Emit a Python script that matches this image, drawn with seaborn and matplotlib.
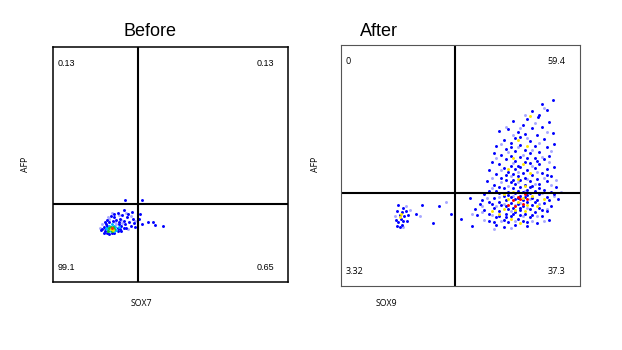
import matplotlib
matplotlib.use("Agg")
import matplotlib.pyplot as plt
import seaborn as sns

sns.set_style("white")

# ---------------- data (axis units 0-100) ----------------
titles = ["Before", "After"]
x_labels = ["SOX7", "SOX9"]
y_label = "AFP"

before_gate = (36.2, 33.2)
after_gate = (47.7, 38.6)

before_quadrants = ["0.13", "0.13", "99.1", "0.65"]   # UL, UR, LL, LR
after_quadrants = ["0", "59.4", "3.32", "37.3"]

before_blue = [(21,22.5),(22,21.5),(21.5,23.5),(22.5,24.5),(23,21),(24,20.5),(26,20.8),(27.5,21.5),
               (28.5,22.5),(29,24),(28,25.5),(27,26.5),(25.5,26),(24,25.5),(23,26.5),(26,27.5),(28.5,27),
               (30,26),(30.5,24.5),(31,23),(29.5,28.5),(31.5,27.5),(32.5,25.5),(33,24),(32,29),(27.5,29.5),
               (30,30.5),(34,27),(34.5,25),(26,29),(24.5,28),(33.5,30),(35,23.5),(22,25.5),(20.5,22),
               (22,22.8),(23,23.8),(27.5,23),(28,24.5),(21.5,21),(25,21),(29,21.8),(30,23),
               (30.6,34.9),(37.7,34.9),(40.4,25.5),(42.6,25.5),(43.4,24.3),(46.8,23.8),(36.5,27),(38,24.5),(37,29)]
before_light = [(23.5,27.5),(25,29.5),(28,28.5),(31,29.5),(33,28),(35,26),(29,26.5),(32,22.5),(21,24.5),(27,24.8),
                (20,23),(26.5,25.5),(29.5,25),(24,26.8)]
before_cyan = [(23,22.5),(24,24),(26.5,23.5),(27,22.3),(25,24.5),(22.5,23),(26,21.8),(28,23.5),
               (23.2,21.5),(24.5,21.5),(26,24)]
before_green = [(24,22.8),(25.5,23.5),(23.5,21.8),(26,22.5),(24.5,23.6),(25,21.8)]
before_yellow = [(24.8,22.6),(25.6,22.2)]
before_red = [(25.2,22.9)]

after_blue = [(88.5,77),(84,75.5),(86,73),(80,72.5),(82.5,70),(78,69.5),(72,68.5),(87,68),(76,67),(84,66),
              (80,65.5),(66,64.5),(70,65),(74,64),(88.5,63.5),(77,63),(82,62.5),(73,61.5),(85,61),(68,60.5),
              (79,60),(71,59.5),(89,59),(75,58.5),(65,58),(81,58),(86,57.5),(69,57),(77,56.5),(73,56),
              (83,55.5),(64,55),(79,55),(67,54.5),(71,54),(87,54),(75,53.5),(81,53),(69,52.5),(85,52.5),
              (73,52),(63,51.5),(77,51.5),(79,51),(66,50.5),(83,50.5),(71,50),(75,49.5),(89,49.5),(68,49),
              (81,49),(73,48.5),(86,48.5),(62,48),(78,48),(70,47.5),(76,47),(84,47),(65,46.5),(72,46.5),
              (80,46),(74,45.5),(88,45.5),(67,45),(77,45),(82,44.5),(69,44),(75,44),(61,43.5),(79,43.5),
              (86,43.5),(71,43),(73,42.5),(83,42.5),(64,42),(77,42),(80,41.5),(66,41),(75,41),(90,41),
              (68,40.5),(72,40.5),(85,40),(78,40),(62,39.5),(74,39.5),(81,39.5),(70,39),(76,39),(88,39),
              (66,38.5),(73,38.5),(79,38.5),(83,38),(60,38),(68,37.5),(75,37.5),(71,37),(77,37),(86,37),
              (64,36.5),(80,36.5),(73,36),(91,36),(69,35.5),(76,35.5),(82,35.5),(62,35),(66,35),(78,35),
              (85,34.5),(71,34.5),(74,34),(58,34),(80,33.5),(67,33.5),(76,33),(88,33),(64,32.5),(72,32.5),
              (83,32.5),(56,32),(70,32),(79,32),(60,31.5),(75,31.5),(66,31),(86,31),(73,30.5),(81,30.5),
              (62,30),(69,30),(77,30),(57,29.5),(84,29),(71,29),(65,28.5),(79,28.5),(74,28),(68,27.5),
              (87,27.5),(62,27),(76,27),(70,26.5),(82,26),(65,25.5),(73,25.5),(78,25),(68,24.5),
              (83,71),(75,62),(71,57.5),(78,53),(74,50),(82,52),(69,46),(86,46),(72,44),(79,41),
              (65,39.5),(83,40.5),(70,37.8),(74,36.5),(78,37.8),(81,35),(69,33),(75,32.5),(63,34),(87,35.5),
              (72,30),(80,29.5),(66,29),(75,29.5),(69,28.5),(78,26.5),(64,26.5),(84,31.5),(59,35.5),(89,38),
              (24,33.5),(26,32.5),(23.5,31),(25.5,30.5),(27,31),(24.5,29.5),(26.5,29),(25,28),(23,27.5),
              (26,27),(24,26.5),(25.5,25.5),(23.5,25),(28,29.5),(27.5,27),(24.5,24.5),
              (34,33.6),(38.5,26),(46,30),(55,25),(54,36.5),(31.5,30),(41,33),(50,28)]
after_light = [(85,74),(77,71),(81,67.5),(69,66),(75,65.5),(86,64),(72,62.5),(78,61.5),(83,59.5),(67,59),
               (74,57.5),(80,56.5),(88,56),(70,55.5),(76,54.5),(84,53.5),(65,53),(72,51),(80,50),(87,51.5),
               (67,48),(74,47.5),(82,47.5),(63,45),(78,44.5),(71,45.5),(85,45),(67,43),(74,43),(81,42.5),
               (88,42),(63,40.5),(70,41.5),(77,39.5),(84,38.5),(66,37),(72,37.5),(79,36),(89,37.5),(61,36.5),
               (68,34),(75,34.5),(83,34),(59,33),(65,33),(73,33.5),(78,32.5),(86,32),(63,29.5),(71,31),
               (76,29),(82,29),(67,27),(73,27),(80,27),(60,27.5),(85,27),(71,24),(64,23.5),(59,30.5),
               (55,30),(90,44),(92,39),(27,33),(22.5,29),(26,24.5),(29,31.5),(33,29),(44,35)]
after_yellow = [(79,70.5),(74,60.5),(78,58),(72,53),(76,50.5),(70,48.5),(79,47),(74,44.5),(77,41.5),(72,39),
                (76,36.5),(80,37.5),(70,36),(74,35),(78,33.5),(68,32),(73,31.5),(66,30),(77,31),(71,28),
                (63,31),(75,26),(82,33),(85,36),(68,38),(25,30),(24.5,28.5)]
after_red = [(74,37),(77,38),(75,36),(72,35.5),(78,36),(76,34),(73,33),(70,33.5)]

# ---------------- figure ----------------
fig = plt.figure(figsize=(6.22, 3.5), dpi=100)
ax_b = fig.add_axes([53/622, 68/350, 235/622, 235/350])
ax_a = fig.add_axes([341/622, 64/350, 239/622, 241/350])


def draw_points(ax, groups):
    for pts, color in groups:
        xs = [p[0] for p in pts]
        ys = [p[1] for p in pts]
        sns.scatterplot(x=xs, y=ys, ax=ax, color=color, marker="o", s=4.5,
                        linewidth=0, legend=False)


draw_points(ax_b, [(before_light, "#a8a8ff"), (before_blue, "#0000ff"), (before_cyan, "#00b4ff"),
                   (before_green, "#20c020"), (before_yellow, "#f0e000"), (before_red, "#ff3000")])
draw_points(ax_a, [(after_light, "#a8a8ff"), (after_blue, "#0000ff"), (after_yellow, "#ffe800"),
                   (after_red, "#ff0000")])

for ax, gate, quads, spine_c, spine_w, fam in [
        (ax_b, before_gate, before_quadrants, "#000000", 1.1, "Liberation Sans"),
        (ax_a, after_gate, after_quadrants, "#555555", 0.8, "Open Sans")]:
    ax.set_xlim(0, 100)
    ax.set_ylim(0, 100)
    ax.set_xticks([])
    ax.set_yticks([])
    ax.set_xlabel("")
    ax.set_ylabel("")
    for sp in ax.spines.values():
        sp.set_visible(True)
        sp.set_color(spine_c)
        sp.set_linewidth(spine_w)
    ax.axvline(gate[0], color="black", lw=1.5)
    ax.axhline(gate[1], color="black", lw=1.5)
    kw = dict(transform=ax.transAxes, fontsize=6.5, family=fam, color="black")
    ax.text(0.02, 0.93, quads[0], ha="left", va="center", **kw)
    ax.text(0.94, 0.93, quads[1], ha="right", va="center", **kw)
    ax.text(0.02, 0.06, quads[2], ha="left", va="center", **kw)
    ax.text(0.94, 0.06, quads[3], ha="right", va="center", **kw)

fig.text(150/622, 1 - 31/350, titles[0], ha="center", va="center", fontsize=13,
         family="Liberation Sans", color="black")
fig.text(379/622, 1 - 31/350, titles[1], ha="center", va="center", fontsize=13,
         family="Liberation Sans", color="black")
fig.text(141/622, 1 - 303/350, x_labels[0], ha="center", va="center", fontsize=6.3,
         family="Open Sans", color="black")
fig.text(386/622, 1 - 303/350, x_labels[1], ha="center", va="center", fontsize=6.3,
         family="Open Sans", color="black")
fig.text(25/622, 1 - 164/350, y_label, ha="center", va="center", rotation=90, fontsize=6.3,
         family="Open Sans", color="black")
fig.text(315/622, 1 - 164/350, y_label, ha="center", va="center", rotation=90, fontsize=6.3,
         family="Open Sans", color="black")

fig.savefig("out.png", dpi=100)
